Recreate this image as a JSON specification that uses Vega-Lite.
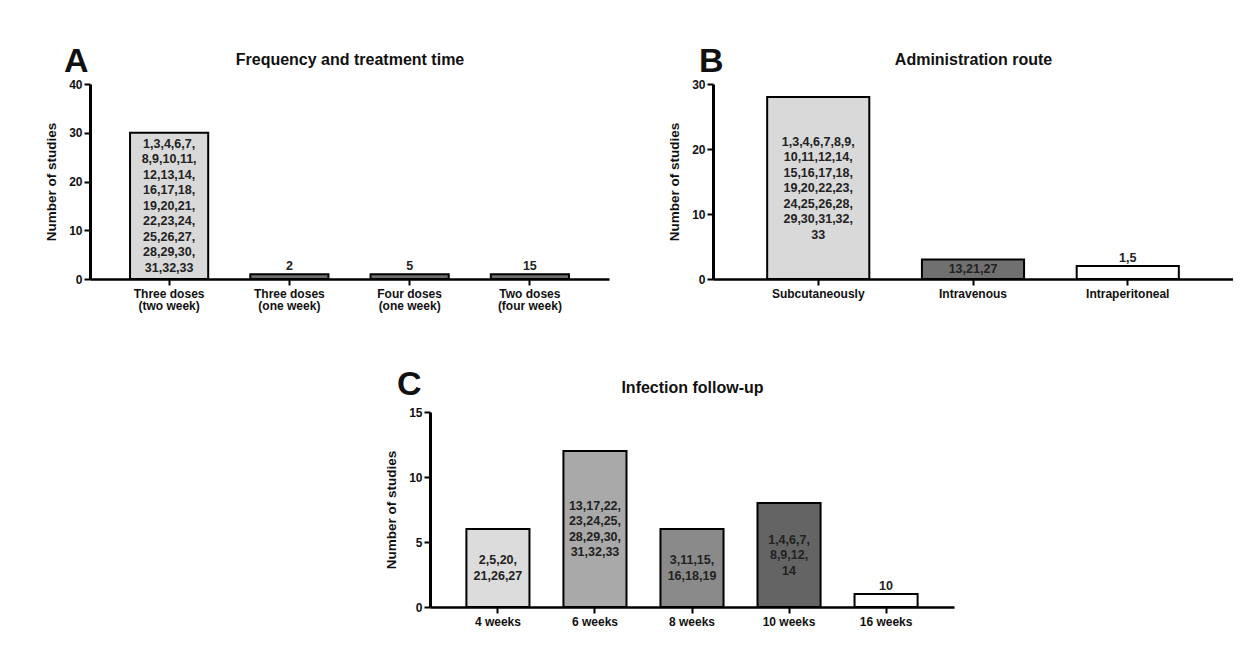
{
  "$schema": "https://vega.github.io/schema/vega-lite/v6.json",
  "background": "white",
  "padding": {"left": 44, "top": 45, "right": 0, "bottom": 0},
  "config": {
    "font": "Liberation Sans",
    "view": {"stroke": null},
    "axis": {
      "grid": false,
      "domainColor": "black",
      "tickColor": "black",
      "labelColor": "#111",
      "titleColor": "#111",
      "labelFont": "Liberation Sans",
      "titleFont": "Liberation Sans",
      "labelFontWeight": "bold",
      "titleFontWeight": "bold",
      "labelFontSize": 12,
      "titleFontSize": 13.5
    },
    "text": {"fontWeight": "bold", "fontSize": 12.5, "lineHeight": 15.5, "color": "#222", "lineBreak": "\n"},
    "title": {"font": "Liberation Sans", "fontWeight": "bold", "fontSize": 34, "color": "#111", "anchor": "start", "frame": "group"}
  },
  "datasets": {
    "a": [
      {"group": "Three doses (two week)", "count": 30, "studies": "1,3,4,6,7,\n8,9,10,11,\n12,13,14,\n16,17,18,\n19,20,21,\n22,23,24,\n25,26,27,\n28,29,30,\n31,32,33"},
      {"group": "Three doses (one week)", "count": 1, "studies": "2"},
      {"group": "Four doses (one week)", "count": 1, "studies": "5"},
      {"group": "Two doses (four week)", "count": 1, "studies": "15"}
    ],
    "b": [
      {"group": "Subcutaneously", "count": 28, "studies": "1,3,4,6,7,8,9,\n10,11,12,14,\n15,16,17,18,\n19,20,22,23,\n24,25,26,28,\n29,30,31,32,\n33"},
      {"group": "Intravenous", "count": 3, "studies": "13,21,27"},
      {"group": "Intraperitoneal", "count": 2, "studies": "1,5"}
    ],
    "c": [
      {"group": "4 weeks", "count": 6, "studies": "2,5,20,\n21,26,27"},
      {"group": "6 weeks", "count": 12, "studies": "13,17,22,\n23,24,25,\n28,29,30,\n31,32,33"},
      {"group": "8 weeks", "count": 6, "studies": "3,11,15,\n16,18,19"},
      {"group": "10 weeks", "count": 8, "studies": "1,4,6,7,\n8,9,12,\n14"},
      {"group": "16 weeks", "count": 1, "studies": "10"}
    ]
  },
  "vconcat": [
    {
      "hconcat": [
        {
          "title": {"text": "A", "dx": -26, "offset": -28},
          "width": 519,
          "height": 195,
          "data": {"name": "a"},
          "layer": [
            {
              "mark": {"type": "bar", "stroke": "black", "strokeWidth": 2},
              "encoding": {
                "x": {"field": "group", "type": "nominal", "sort": null,
                      "scale": {"paddingInner": 0.35, "paddingOuter": 0.333},
                      "axis": {"title": null, "labelAngle": 0, "domainWidth": 2.5, "tickWidth": 2, "tickSize": 6, "labelPadding": 3, "labelLineHeight": 12,
                               "labelExpr": "[slice(datum.label, 0, indexof(datum.label, ' (')), slice(datum.label, indexof(datum.label, ' (') + 1)]"}},
                "y": {"field": "count", "type": "quantitative",
                      "scale": {"domain": [0, 40], "nice": false},
                      "axis": {"title": "Number of studies", "values": [0, 10, 20, 30, 40], "domainWidth": 3, "tickWidth": 2, "tickSize": 6, "labelPadding": 2, "titlePadding": 10}},
                "color": {"field": "group", "type": "nominal", "legend": null,
                          "scale": {"domain": ["Three doses (two week)", "Three doses (one week)", "Four doses (one week)", "Two doses (four week)"], "range": ["#d9d9d9", "#6e6e6e", "#6e6e6e", "#6e6e6e"]}}
              }
            },
            {
              "transform": [{"filter": "datum.group == 'Three doses (two week)'"}],
              "mark": {"type": "text", "baseline": "middle", "dy": -62},
              "encoding": {
                "x": {"field": "group", "type": "nominal", "sort": null,
                      "axis": {"orient": "top", "title": "Frequency and treatment time", "titleFontSize": 16, "labels": false, "ticks": false, "domain": false, "titlePadding": 17}},
                "y": {"field": "count", "type": "quantitative", "scale": {"domain": [0, 80], "nice": false}, "axis": null},
                "text": {"field": "studies"}
              }
            },
            {
              "transform": [{"filter": "datum.count < 3"}],
              "mark": {"type": "text", "baseline": "bottom", "dy": -1},
              "encoding": {
                "x": {"field": "group", "type": "nominal", "sort": null, "axis": null},
                "y": {"field": "count", "type": "quantitative", "scale": {"domain": [0, 40], "nice": false}, "axis": null},
                "text": {"field": "studies"}
              }
            }
          ],
          "resolve": {"axis": {"x": "independent"}, "scale": {"y": "independent"}}
        },
        {
          "title": {"text": "B", "dx": -14, "offset": -28},
          "width": 520,
          "height": 195,
          "data": {"name": "b"},
          "layer": [
            {
              "mark": {"type": "bar", "stroke": "black", "strokeWidth": 2},
              "encoding": {
                "x": {"field": "group", "type": "nominal", "sort": null,
                      "scale": {"paddingInner": 0.34, "paddingOuter": 0.35},
                      "axis": {"title": null, "labelAngle": 0, "domainWidth": 2.5, "tickWidth": 2, "tickSize": 6, "labelPadding": 3}},
                "y": {"field": "count", "type": "quantitative",
                      "scale": {"domain": [0, 30], "nice": false},
                      "axis": {"title": "Number of studies", "values": [0, 10, 20, 30], "domainWidth": 3, "tickWidth": 2, "tickSize": 6, "labelPadding": 2, "titlePadding": 10}},
                "color": {"field": "group", "type": "nominal", "legend": null,
                          "scale": {"domain": ["Subcutaneously", "Intravenous", "Intraperitoneal"], "range": ["#d9d9d9", "#707070", "#ffffff"]}}
              }
            },
            {
              "transform": [{"filter": "datum.group == 'Subcutaneously'"}],
              "mark": {"type": "text", "baseline": "middle", "dy": -46.5},
              "encoding": {
                "x": {"field": "group", "type": "nominal", "sort": null,
                      "axis": {"orient": "top", "title": "Administration route", "titleFontSize": 16, "labels": false, "ticks": false, "domain": false, "titlePadding": 17}},
                "y": {"field": "count", "type": "quantitative", "scale": {"domain": [0, 60], "nice": false}, "axis": null},
                "text": {"field": "studies"}
              }
            },
            {
              "transform": [{"filter": "datum.group == 'Intravenous'"}],
              "mark": {"type": "text", "baseline": "middle"},
              "encoding": {
                "x": {"field": "group", "type": "nominal", "sort": null, "axis": null},
                "y": {"field": "count", "type": "quantitative", "scale": {"domain": [0, 60], "nice": false}, "axis": null},
                "text": {"field": "studies"}
              }
            },
            {
              "transform": [{"filter": "datum.count < 3"}],
              "mark": {"type": "text", "baseline": "bottom", "dy": -1},
              "encoding": {
                "x": {"field": "group", "type": "nominal", "sort": null, "axis": null},
                "y": {"field": "count", "type": "quantitative", "scale": {"domain": [0, 30], "nice": false}, "axis": null},
                "text": {"field": "studies"}
              }
            }
          ],
          "resolve": {"axis": {"x": "independent"}, "scale": {"y": "independent"}}
        }
      ],
      "spacing": 58,
      "resolve": {"scale": {"color": "independent"}}
    },
    {
      "hconcat": [
        {
          "width": 294,
          "height": 10,
          "data": {"values": []},
          "mark": {"type": "point", "opacity": 0},
          "encoding": {}
        },
        {
          "title": {"text": "C", "dx": -33, "offset": -23},
          "width": 524,
          "height": 195,
          "data": {"name": "c"},
          "layer": [
            {
              "mark": {"type": "bar", "stroke": "black", "strokeWidth": 2},
              "encoding": {
                "x": {"field": "group", "type": "nominal", "sort": null,
                      "scale": {"paddingInner": 0.35, "paddingOuter": 0.375},
                      "axis": {"title": null, "labelAngle": 0, "domainWidth": 2.5, "tickWidth": 2, "tickSize": 6, "labelPadding": 3}},
                "y": {"field": "count", "type": "quantitative",
                      "scale": {"domain": [0, 15], "nice": false},
                      "axis": {"title": "Number of studies", "values": [0, 5, 10, 15], "domainWidth": 3, "tickWidth": 2, "tickSize": 6, "labelPadding": 2, "titlePadding": 10}},
                "color": {"field": "group", "type": "nominal", "legend": null,
                          "scale": {"domain": ["4 weeks", "6 weeks", "8 weeks", "10 weeks", "16 weeks"], "range": ["#dcdcdc", "#a9a9a9", "#8a8a8a", "#646464", "#ffffff"]}}
              }
            },
            {
              "transform": [{"filter": {"field": "group", "oneOf": ["4 weeks", "8 weeks"]}}],
              "mark": {"type": "text", "baseline": "middle", "dy": -7.75},
              "encoding": {
                "x": {"field": "group", "type": "nominal", "sort": null,
                      "axis": {"orient": "top", "title": "Infection follow-up", "titleFontSize": 16, "labels": false, "ticks": false, "domain": false, "titlePadding": 17}},
                "y": {"field": "count", "type": "quantitative", "scale": {"domain": [0, 30], "nice": false}, "axis": null},
                "text": {"field": "studies"}
              }
            },
            {
              "transform": [{"filter": "datum.group == '6 weeks'"}],
              "mark": {"type": "text", "baseline": "middle", "dy": -23.25},
              "encoding": {
                "x": {"field": "group", "type": "nominal", "sort": null, "axis": null},
                "y": {"field": "count", "type": "quantitative", "scale": {"domain": [0, 30], "nice": false}, "axis": null},
                "text": {"field": "studies"}
              }
            },
            {
              "transform": [{"filter": "datum.group == '10 weeks'"}],
              "mark": {"type": "text", "baseline": "middle", "dy": -15.5},
              "encoding": {
                "x": {"field": "group", "type": "nominal", "sort": null, "axis": null},
                "y": {"field": "count", "type": "quantitative", "scale": {"domain": [0, 30], "nice": false}, "axis": null},
                "text": {"field": "studies"}
              }
            },
            {
              "transform": [{"filter": "datum.count < 3"}],
              "mark": {"type": "text", "baseline": "bottom", "dy": -1},
              "encoding": {
                "x": {"field": "group", "type": "nominal", "sort": null, "axis": null},
                "y": {"field": "count", "type": "quantitative", "scale": {"domain": [0, 15], "nice": false}, "axis": null},
                "text": {"field": "studies"}
              }
            }
          ],
          "resolve": {"axis": {"x": "independent"}, "scale": {"y": "independent"}}
        }
      ],
      "spacing": 0,
      "resolve": {"scale": {"color": "independent"}}
    }
  ],
  "spacing": 57,
  "resolve": {"scale": {"color": "independent"}}
}
